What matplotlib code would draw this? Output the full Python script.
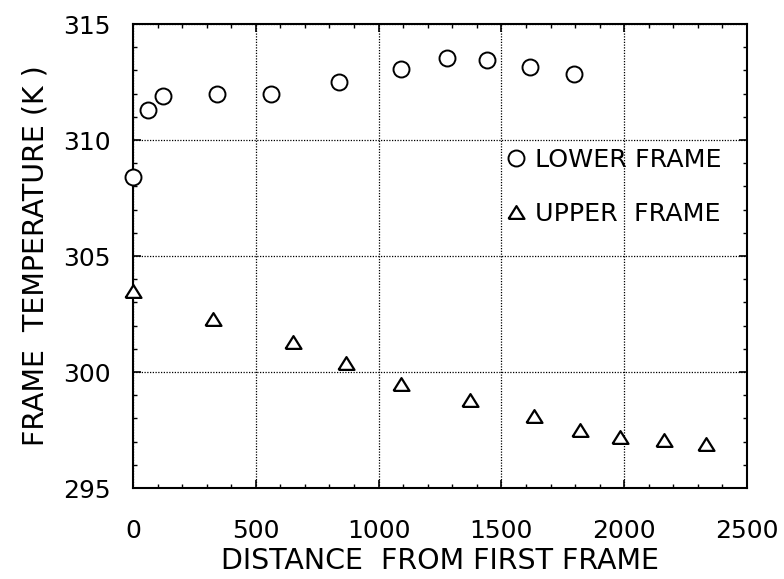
import numpy as np
import matplotlib
matplotlib.use("Agg")
import matplotlib.pyplot as plt
from matplotlib.ticker import MultipleLocator

# Lower frame (circles)
dist_lower = [0, 62, 124, 341, 561, 839, 1092, 1278, 1441, 1618, 1794]
temp_lower = [308.4, 311.3, 311.9, 312.0, 312.0, 312.5, 313.05, 313.55, 313.45, 313.15, 312.85]

# Upper frame (triangles)
dist_upper = [0, 327, 651, 869, 1092, 1374, 1634, 1822, 1984, 2161, 2335]
temp_upper = [303.5, 302.3, 301.3, 300.4, 299.5, 298.8, 298.1, 297.5, 297.2, 297.05, 296.9]

plt.rcParams["font.family"] = "DejaVu Sans"

tri = [(-1.0, -0.8), (1.0, -0.8), (0.0, 0.8), (-1.0, -0.8)]

fig = plt.figure(figsize=(7.84, 5.79), dpi=100)
ax = fig.add_axes([0.1696, 0.1571, 0.7832, 0.8014])

ax.plot(dist_lower, temp_lower, linestyle="none", marker="o", markersize=11.5,
        markerfacecolor="white", markeredgecolor="black", markeredgewidth=1.4,
        label="LOWER FRAME", clip_on=False, zorder=3)
ax.plot(dist_upper, temp_upper, linestyle="none", marker=tri, markersize=11.5,
        markerfacecolor="white", markeredgecolor="black", markeredgewidth=1.6,
        label="UPPER  FRAME", clip_on=False, zorder=3)

ax.set_xlim(0, 2500)
ax.set_ylim(295, 315)
ax.xaxis.set_major_locator(MultipleLocator(500))
ax.xaxis.set_minor_locator(MultipleLocator(100))
ax.yaxis.set_major_locator(MultipleLocator(5))
ax.yaxis.set_minor_locator(MultipleLocator(1))

ax.grid(True, which="major", linestyle=(0, (1, 1.2)), color="black", linewidth=0.9)
ax.tick_params(which="both", direction="in", top=True, right=True, colors="black")
ax.tick_params(which="major", length=6, width=1.2, labelsize=18)
ax.tick_params(which="minor", length=3, width=1.0)
ax.tick_params(axis="x", pad=22)
ax.tick_params(axis="y", pad=16)
for s in ax.spines.values():
    s.set_linewidth(1.5)

ax.set_xlabel("DISTANCE  FROM FIRST FRAME", fontsize=20.5, labelpad=3)
ax.set_ylabel("FRAME  TEMPERATURE (K )", fontsize=20.5, labelpad=10)

leg = ax.legend(loc="upper left", bbox_to_anchor=(0.595, 0.755), frameon=False,
                fontsize=18.3, handlelength=0.6, handletextpad=0.45,
                labelspacing=1.2, markerscale=1.0, borderaxespad=0)

fig.savefig("out.png", dpi=100)
